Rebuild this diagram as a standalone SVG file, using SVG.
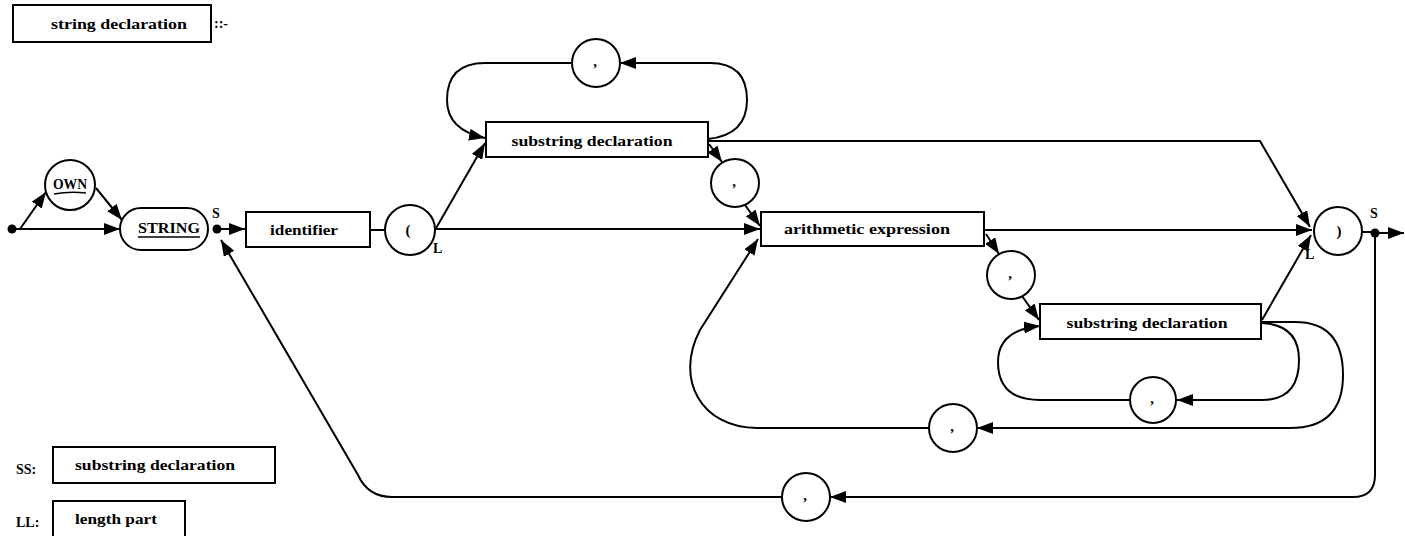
<svg xmlns="http://www.w3.org/2000/svg" width="1405" height="536" viewBox="0 0 1405 536">
  <style>
    .box { fill: #fff; stroke: #000; stroke-width: 2; }
    .term { fill: #fff; stroke: #000; stroke-width: 2; }
    .lbl { font-family: "Liberation Serif", "DejaVu Serif", serif; font-size: 15px; font-weight: bold; fill: #000; text-anchor: middle; }
    .tag { font-family: "Liberation Serif", "DejaVu Serif", serif; font-size: 14px; font-weight: bold; fill: #000; }
    .wire { fill: none; stroke: #000; stroke-width: 2; }
    .arr { marker-end: url(#head); }
    .ul { fill: none; stroke: #000; stroke-width: 1.6; }
  </style>
  <defs>
    <marker id="head" markerUnits="userSpaceOnUse" markerWidth="16" markerHeight="12" refX="16" refY="6" orient="auto">
      <path d="M0,0 L16,6 L0,12 z" fill="#000"/>
    </marker>
  </defs>
  <rect width="1405" height="536" fill="#fff"/>

  <!-- rule heading -->
  <g id="heading">
    <rect class="box" x="13" y="5" width="198" height="37"/>
    <text class="lbl" x="119" y="29" textLength="136" lengthAdjust="spacingAndGlyphs">string declaration</text>
    <text class="tag" x="214" y="28" font-weight="normal">::-</text>
  </g>

  <!-- connectors -->
  <g id="connectors">
    <path class="wire arr" d="M12,229 L120,229"/>
    <path class="wire arr" d="M20,229 L46,192"/>
    <path class="wire arr" d="M96,188 L122,220"/>
    <path class="wire arr" d="M217,229 L245,229"/>
    <path class="wire" d="M370,230 L385,230"/>
    <path class="wire arr" d="M435,230 L485,143"/>
    <path class="wire arr" d="M435,229 L760,229"/>
    <path class="wire arr" d="M572,63 L485,63 Q447,63 447,100 Q447,130 485,138"/>
    <path class="wire arr" d="M708,139 Q747,135 747,100 Q747,63 710,63 L620,63"/>
    <path class="wire arr" d="M708,141 L1260,141 L1310,227"/>
    <path class="wire arr" d="M709,144 L722,162"/>
    <path class="wire arr" d="M745,205 L760,226"/>
    <path class="wire arr" d="M929,428 L757,428 C702,428 674,380 700,330 L758,239"/>
    <path class="wire arr" d="M984,230 L1312,230"/>
    <path class="wire arr" d="M986,234 L999,254"/>
    <path class="wire arr" d="M1022,296 L1039,320"/>
    <path class="wire arr" d="M1262,320 L1311,235"/>
    <path class="wire arr" d="M1262,323 Q1299,325 1299,360 Q1299,400 1262,400 L1177,400"/>
    <path class="wire arr" d="M1130,400 L1040,400 Q998,400 998,362 Q998,330 1040,326"/>
    <path class="wire arr" d="M1262,322 L1295,322 Q1343,322 1343,375 Q1343,428 1290,428 L977,428"/>
    <path class="wire" d="M1362,232 L1375,232"/>
    <path class="wire arr" d="M1375,233 L1404,233"/>
    <path class="wire arr" d="M1375,233 L1375,475 Q1375,497 1353,497 L830,497"/>
    <path class="wire arr" d="M782,497 L392,497 Q368,497 358,475 L221,240"/>
    <circle cx="12" cy="229" r="4.5" fill="#000"/>
    <circle cx="217" cy="229" r="4.5" fill="#000"/>
    <circle cx="1375" cy="233" r="4.5" fill="#000"/>
    <text class="tag" x="212" y="218">S</text>
    <text class="tag" x="1370" y="218">S</text>
    <text class="tag" x="433" y="253">L</text>
    <text class="tag" x="1305" y="259" font-weight="normal">L</text>
  </g>

  <g id="own">
    <circle class="term" cx="70" cy="185" r="25"/>
    <text class="lbl" x="70" y="189" font-size="13" textLength="34" lengthAdjust="spacingAndGlyphs">OWN</text>
    <path class="ul" d="M54,194 Q70,191 86,193"/>
  </g>

  <g id="string">
    <rect class="term" x="120" y="208" width="88" height="42" rx="21"/>
    <text class="lbl" x="169" y="233" font-size="14" textLength="62" lengthAdjust="spacingAndGlyphs">STRING</text>
    <path class="ul" d="M138,237 L200,237"/>
  </g>

  <g id="identifier">
    <rect class="box" x="246" y="212" width="124" height="35"/>
    <text class="lbl" x="304" y="235" textLength="68" lengthAdjust="spacingAndGlyphs">identifier</text>
  </g>

  <g id="open-paren">
    <circle class="term" cx="410" cy="230" r="25"/>
    <text class="lbl" x="408" y="235">(</text>
  </g>

  <g id="substring-1">
    <rect class="box" x="486" y="122" width="222" height="35"/>
    <text class="lbl" x="592" y="146" textLength="161" lengthAdjust="spacingAndGlyphs">substring declaration</text>
  </g>

  <g id="comma-top">
    <circle class="term" cx="596" cy="63" r="24"/>
    <text class="lbl" x="595" y="66">,</text>
  </g>

  <g id="comma-2">
    <circle class="term" cx="735" cy="183" r="24"/>
    <text class="lbl" x="734" y="186">,</text>
  </g>

  <g id="arith">
    <rect class="box" x="761" y="212" width="223" height="34"/>
    <text class="lbl" x="867" y="234" textLength="166" lengthAdjust="spacingAndGlyphs">arithmetic expression</text>
  </g>

  <g id="comma-3">
    <circle class="term" cx="1011" cy="275" r="24"/>
    <text class="lbl" x="1010" y="278">,</text>
  </g>

  <g id="substring-2">
    <rect class="box" x="1040" y="304" width="221" height="35"/>
    <text class="lbl" x="1147" y="328" textLength="161" lengthAdjust="spacingAndGlyphs">substring declaration</text>
  </g>

  <g id="comma-4">
    <circle class="term" cx="1153" cy="400" r="23"/>
    <text class="lbl" x="1152" y="403">,</text>
  </g>

  <g id="comma-5">
    <circle class="term" cx="953" cy="428" r="24"/>
    <text class="lbl" x="952" y="431">,</text>
  </g>

  <g id="comma-6">
    <circle class="term" cx="806" cy="497" r="24"/>
    <text class="lbl" x="805" y="500">,</text>
  </g>

  <g id="close-paren">
    <circle class="term" cx="1338" cy="231" r="24"/>
    <text class="lbl" x="1339" y="236">)</text>
  </g>

  <g id="legend-ss">
    <text class="tag" x="16" y="474">SS:</text>
    <rect class="box" x="53" y="447" width="222" height="36"/>
    <text class="lbl" x="155" y="470" textLength="160" lengthAdjust="spacingAndGlyphs">substring declaration</text>
  </g>

  <g id="legend-ll">
    <text class="tag" x="16" y="527">LL:</text>
    <rect class="box" x="53" y="501" width="132" height="38"/>
    <text class="lbl" x="116" y="524" textLength="82" lengthAdjust="spacingAndGlyphs">length part</text>
  </g>
</svg>
